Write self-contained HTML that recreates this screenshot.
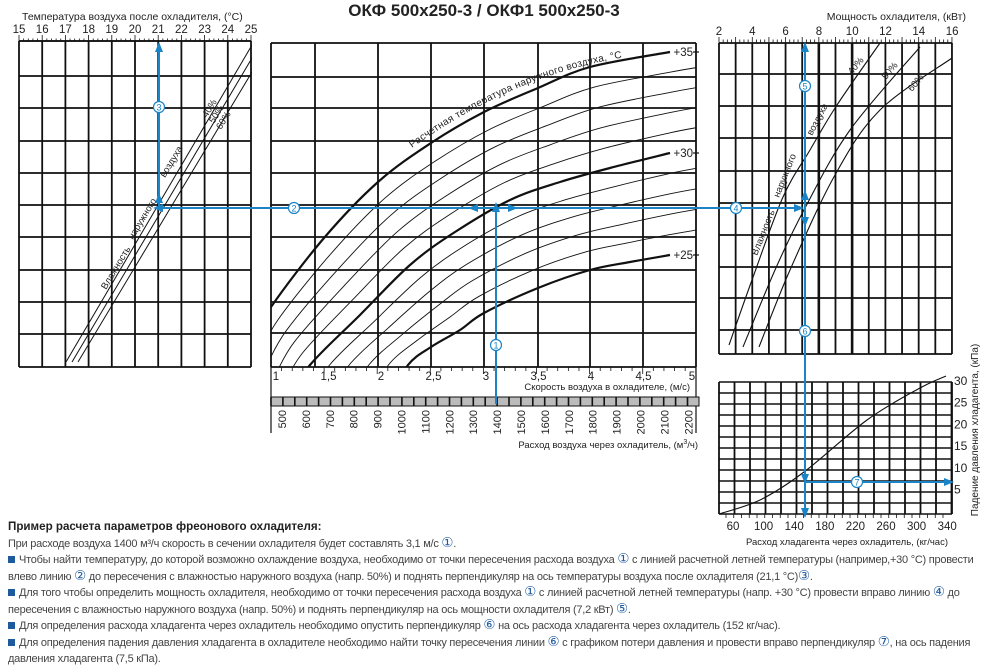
<!DOCTYPE html>
<html><head><meta charset="utf-8">
<style>
html,body{margin:0;background:#fff;width:990px;height:665px;overflow:hidden;font-family:"Liberation Sans",sans-serif}
svg{position:absolute;left:0;top:0}
.tx{position:absolute;left:8px;top:519px;width:985px;white-space:nowrap;font-family:"Liberation Sans",sans-serif;font-size:11px;color:#444;letter-spacing:-0.25px}
.tx div{height:16.5px;line-height:16.5px;overflow:visible}
.tx b{color:#222;font-size:11.6px;letter-spacing:0}
.sq{display:inline-block;width:7px;height:7px;background:#1f5a9e;margin-right:4px;vertical-align:0px}
.c{font-size:13.5px;color:#1f5a9e;line-height:10px}
</style></head><body>
<svg id="s" width="990" height="665" viewBox="0 0 990 665" font-family="Liberation Sans, sans-serif">
<text x="484" y="16" font-size="17" font-weight="bold" text-anchor="middle" fill="#222">ОКФ 500x250-3 / ОКФ1 500x250-3</text>
<text x="22" y="20" font-size="10.5" fill="#222">Температура воздуха после охладителя, (°C)</text>
<text x="966" y="20" font-size="10.5" fill="#222" text-anchor="end">Мощность охладителя, (кВт)</text>
<g id="g"></g>
</svg>
<div class="tx">
<div><b>Пример расчета параметров фреонового охладителя:</b></div>
<div>При расходе воздуха 1400 м³/ч скорость в сечении охладителя будет составлять 3,1 м/с <span class="c">①</span>.</div>
<div><span class="sq"></span>Чтобы найти температуру, до которой возможно охлаждение воздуха, необходимо от точки пересечения расхода воздуха <span class="c">①</span> с линией расчетной летней температуры (например,+30 °C) провести</div>
<div>влево линию <span class="c">②</span> до пересечения с влажностью наружного воздуха (напр. 50%) и поднять перпендикуляр на ось температуры воздуха после охладителя (21,1 °C)<span class="c">③</span>.</div>
<div><span class="sq"></span>Для того чтобы определить мощность охладителя, необходимо от точки пересечения расхода воздуха <span class="c">①</span> с линией расчетной летней температуры (напр. +30 °C) провести вправо линию <span class="c">④</span> до</div>
<div>пересечения с влажностью наружного воздуха (напр. 50%) и поднять перпендикуляр на ось мощности охладителя (7,2 кВт) <span class="c">⑤</span>.</div>
<div><span class="sq"></span>Для определения расхода хладагента через охладитель необходимо опустить перпендикуляр <span class="c">⑥</span> на ось расхода хладагента через охладитель (152 кг/час).</div>
<div><span class="sq"></span>Для определения падения давления хладагента в охладителе необходимо найти точку пересечения линии <span class="c">⑥</span> с графиком потери давления и провести вправо перпендикуляр <span class="c">⑦</span>, на ось падения</div>
<div>давления хладагента (7,5 кПа).</div>
</div>
<script>
var h=[];
function L(x1,y1,x2,y2,w,c){h.push('<line x1="'+x1+'" y1="'+y1+'" x2="'+x2+'" y2="'+y2+'" stroke="'+(c||'#111')+'" stroke-width="'+(w||1)+'"/>');}
function T(x,y,s,sz,a,extra){h.push('<text x="'+x+'" y="'+y+'" font-size="'+(sz||11)+'" text-anchor="'+(a||'middle')+'" fill="#222" '+(extra||'')+'>'+s+'</text>');}
function cr(p){var d='M'+p[0][0]+','+p[0][1];for(var i=0;i<p.length-1;i++){var a=p[Math.max(i-1,0)],b=p[i],c=p[i+1],e=p[Math.min(i+2,p.length-1)];d+=' C'+(b[0]+(c[0]-a[0])/6).toFixed(1)+','+(b[1]+(c[1]-a[1])/6).toFixed(1)+' '+(c[0]-(e[0]-b[0])/6).toFixed(1)+','+(c[1]-(e[1]-b[1])/6).toFixed(1)+' '+c[0]+','+c[1];}return d;}
function P(p,w,clip){h.push('<path d="'+cr(p)+'" fill="none" stroke="#111" stroke-width="'+w+'"'+(clip?' clip-path="url(#'+clip+')"':'')+'/>');}
h.push('<defs><clipPath id="cm"><rect x="271" y="43" width="425" height="324"/></clipPath><clipPath id="cl"><rect x="19" y="41" width="233" height="326"/></clipPath></defs>');
var ly=[41,76,108,141,173,205,237,270,302,334,367];
for(var i=0;i<=10;i++){var x=19+i*23.2;L(x,41,x,367,1.8);}
ly.forEach(function(y){L(19,y,251,y,1.8)});
for(var i=0;i<=50;i++){var x=19+i*4.64;L(x,41,x,i%5==0?35:38.5,0.8);}
L(19,41,251,41,1.5);
for(var i=0;i<=10;i++)T(19+i*23.2,33,15+i,11.5);
P([[66,362],[252,45]],1,'cl');P([[72,362],[252,58]],1,'cl');P([[78,362],[252,72]],1,'cl');
T(0,0,'Влажность',9.5,'start','transform="translate(106,290) rotate(-59)"');
T(0,0,'наружного',9.5,'start','transform="translate(133,240) rotate(-59)"');
T(0,0,'воздуха',9.5,'start','transform="translate(165,178) rotate(-59)"');
T(0,0,'40%',9.5,'start','transform="translate(207,118) rotate(-58)"');
T(0,0,'50%',9.5,'start','transform="translate(214,124) rotate(-58)"');
T(0,0,'60%',9.5,'start','transform="translate(221,130) rotate(-58)"');
var my=[43,77,108,141,173,205,237,270,302,333,367];
my.forEach(function(y){L(271,y,696,y,1.8)});
[271,315,378,431,484,538,590,643,696].forEach(function(x){L(x,43,x,367,1.8)});
L(271,367,271,433,1.2);L(696,367,696,433,1.2);
for(var i=0;i<=40;i++){var x=271+i*10.62;L(x,367,x,i%5==0?374:371,0.8);}
var vl=['1','1,5','2','2,5','3','3,5','4','4,5','5'];
vl.forEach(function(s,i){T(276+i*52.5-(i==8?4:0),380,s,11.5)});
T(690,390,'Скорость воздуха в охладителе, (м/с)',9.5,'end');
h.push('<rect x="271" y="397" width="428" height="9" fill="#bbb" stroke="#111" stroke-width="1"/>');
for(var i=0;i<36;i++){var x=271+i*11.9;L(x,397,x,406,1.6);}
for(var i=0;i<18;i++){var v=500+i*100,x=282+i*23.9;T(0,0,v,11,'end','transform="translate('+(x+4)+',410) rotate(-90)"');}
T(698,448,'Расход воздуха через охладитель, (м<tspan font-size="7" dy="-4">3</tspan><tspan dy="4">/ч)</tspan>',9.5,'end');
var A=[[250,345],[271,307],[324,238],[378,182],[431,143],[484,112],[538,88],[590,67],[670,52],[700,47]];
var B=[[290,400],[310,365],[360,315],[410,265],[455,232],[510,200],[560,182],[610,168],[670,153],[700,147]];
var C=[[390,400],[408,365],[431,347],[460,330],[484,313],[538,288],[590,270],[630,262],[670,255],[700,250]];
function bl(a,b,t){return a.map(function(p,i){return[+(p[0]*(1-t)+b[i][0]*t).toFixed(1),+(p[1]*(1-t)+b[i][1]*t).toFixed(1)]})}
for(var k=1;k<5;k++){P(bl(A,B,k/5),0.9,'cm');P(bl(B,C,k/5),0.9,'cm');}
P(A.slice(0,9),2.2,'cm');P(B.slice(0,9),2.2,'cm');P(C.slice(0,9),2.2,'cm');
[[52,'+35'],[153,'+30'],[255,'+25']].forEach(function(a){T(693,a[0]+4,a[1],11.5,'end');L(693,a[0],699,a[0],1.2)});
h.push('<path id="cp" d="M412,148 Q520,70 640,55" fill="none"/>');
h.push('<text font-size="10" fill="#222" letter-spacing="0.3"><textPath href="#cp">Расчетная   температура наружного   воздуха, °C</textPath></text>');
for(var i=0;i<=14;i++){var x=719+i*16.64;L(x,43,x,354,(i==6||i==8)?2.6:1.8);}
[43,74,106,138,171,203,235,267,298,330,354].forEach(function(y){L(719,y,952,y,1.8)});
for(var i=0;i<=56;i++){var x=719+i*4.16;L(x,43,x,i%4==0?37:39.5,0.8);}
for(var i=0;i<=7;i++)T(719+i*33.3,35,2+2*i,11.5);
P([[729,345],[752,280],[783,197],[810,150],[837,105],[880,43]],1.1);
P([[743,347],[775,270],[805,208],[850,130],[920,47]],1.1);
P([[759,347],[790,270],[835,175],[880,110],[952,58]],1.1);
T(0,0,'Влажность',9.5,'start','transform="translate(757,256) rotate(-68)"');
T(0,0,'наружного',9.5,'start','transform="translate(779,198) rotate(-68)"');
T(0,0,'воздуха',9.5,'start','transform="translate(812,136) rotate(-62)"');
T(0,0,'40%',9.5,'start','transform="translate(852,75) rotate(-50)"');
T(0,0,'50%',9.5,'start','transform="translate(886,80) rotate(-50)"');
T(0,0,'60%',9.5,'start','transform="translate(912,92) rotate(-50)"');
for(var i=0;i<=12;i++)L(719,382+i*11,952,382+i*11,1.6);
for(var x=719;x<=952;x+=15.5)L(x,382,x,514,1.8);
L(952,382,952,514,1.8);
for(var i=0;i<=5;i++)T(954,385+i*21.7,30-5*i,12,'start');
for(var i=0;i<=28;i++){var x=726+i*7.75;L(x,514,x,518,0.8);}
for(var i=0;i<8;i++)T(733+i*30.6,530,60+40*i,11.5);
T(948,545,'Расход хладагента через охладитель, (кг/час)',9.5,'end');
T(0,0,'Падение давления хладагента, (кПа)',10,'middle','transform="translate(978,430) rotate(-90)"');
P([[719,514],[760,500],[804,472],[867,420],[920,388],[946,376]],1.1);
var bc='#1a84c7';
function BL(x1,y1,x2,y2){L(x1,y1,x2,y2,2,bc)}
function AR(x,y,d){var p={u:[[0,-10],[-4,0],[4,0]],d:[[0,10],[-4,0],[4,0]],l:[[-10,0],[0,-4],[0,4]],r:[[10,0],[0,-4],[0,4]]}[d];h.push('<polygon points="'+p.map(function(q){return(x+q[0])+','+(y+q[1])}).join(' ')+'" fill="'+bc+'"/>');}
function CI(x,y,n){h.push('<circle cx="'+x+'" cy="'+y+'" r="5.5" fill="#fff" stroke="'+bc+'" stroke-width="1.2"/>');h.push('<text x="'+x+'" y="'+(y+3.5)+'" font-size="9" text-anchor="middle" fill="'+bc+'">'+n+'</text>');}
BL(496,404,496,210);AR(496,212,'u');CI(496,345,1);
BL(160,208,802,208);AR(163,208,'l');AR(478,208,'l');AR(508,208,'r');AR(794,208,'r');
CI(294,208,2);CI(736,208,4);
BL(159,208,159,44);AR(159,52,'u');AR(159,203,'u');CI(159,107,3);
BL(805,44,805,515);AR(805,52,'u');AR(805,200,'u');AR(805,217,'d');CI(805,86,5);CI(805,331,6);AR(805,474,'d');AR(805,508,'d');
BL(805,482,950,482);AR(944,482,'r');CI(857,482,7);
document.getElementById('g').innerHTML=h.join('');
</script>
</body></html>
